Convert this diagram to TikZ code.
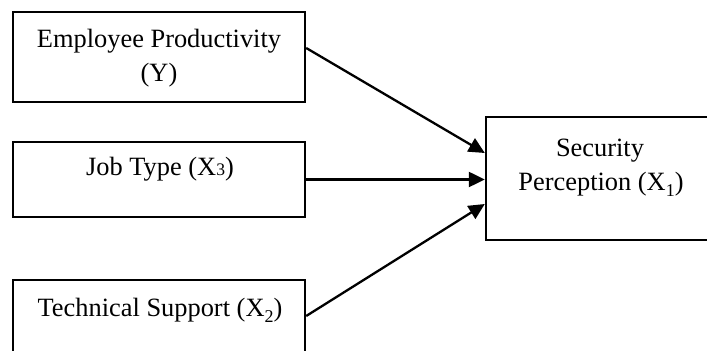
\documentclass[tikz,border=0pt]{standalone}
\usepackage{fontspec}
\setmainfont{Liberation Serif}
\usetikzlibrary{arrows.meta}
\newcommand{\lowsub}[1]{\raisebox{-3pt}{\fontsize{9}{9}\selectfont #1}}
\begin{document}
\begin{tikzpicture}[x=0.5pt,y=-0.5pt,
  box/.style={draw=black,line width=1.2pt,rectangle,inner sep=0pt},
  lbl/.style={anchor=base,inner sep=0pt,font=\fontsize{13.2}{15}\selectfont},
  conn/.style={line width=1.15pt,-{Triangle[length=8pt,width=7.5pt]}}]
\useasboundingbox (0,0) rectangle (707,351);
\clip (0,0) rectangle (707,351);
\node[box,minimum width=146pt,minimum height=45pt] (b1) at (159,57) {};
\node[box,minimum width=146pt,minimum height=37.5pt] (b2) at (159,179.5) {};
\node[box,minimum width=146pt,minimum height=40pt] (b3) at (159,320) {};
\node[box,minimum width=114pt,minimum height=61.5pt] (b4) at (600,178.5) {};
\node[lbl] (t1a) at (159,48) {Employee Productivity};
\node[lbl] (t1b) at (159,82) {(Y)};
\node[lbl] (t2) at (160,176) {Job Type (X{\fontsize{8.8}{9}\selectfont 3})};
\node[lbl] (t3) at (160,316.5) {Technical Support (X\lowsub{2})};
\node[lbl] (t4a) at (600,156.5) {Security};
\node[lbl] (t4b) at (601,190.5) {Perception (X\lowsub{1})};
\draw[conn] ([yshift=4.5pt]b1.east) -- ([yshift=12.75pt]b4.west);
\draw[conn] (b2.east) -- (b2.east -| b4.west);
\draw[conn] ([yshift=2pt]b3.east) -- ([yshift=-12.75pt]b4.west);
\end{tikzpicture}
\end{document}
